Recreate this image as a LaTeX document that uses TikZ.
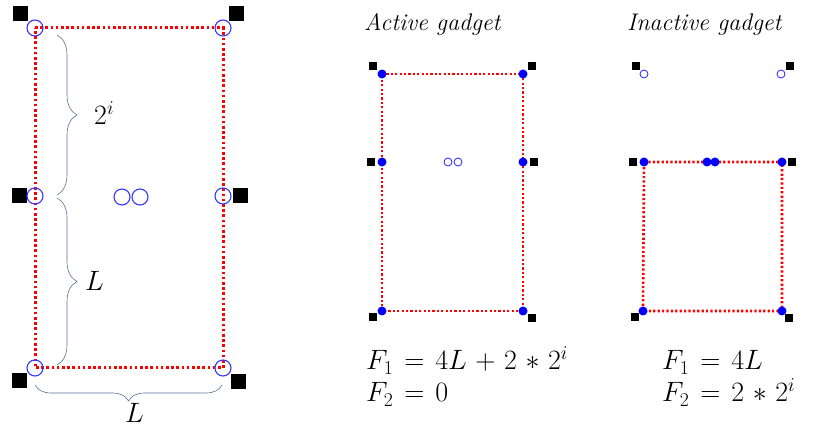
\documentclass[tikz,border=0pt]{standalone}
\usepackage{fix-cm}
\usepackage{amsmath}
\usepackage{xcolor}
\usepackage{tikz}
\usetikzlibrary{decorations.pathreplacing}
\thickmuskip=7mu plus 3mu\relax
\medmuskip=5.5mu plus 2mu minus 2mu\relax
\definecolor{bracecol}{RGB}{85,115,155}
\definecolor{ringcol}{RGB}{55,55,255}
\tikzset{
    blk/.style={rectangle, fill=black, minimum size=15pt, inner sep=0pt},
    blksmall/.style={blk, minimum size=8.5pt},
    ring/.style={circle, draw=ringcol, line width=1.1pt, minimum size=16pt, inner sep=0pt},
    ringsmall/.style={ring, minimum size=8pt, line width=0.9pt},
    bluedot/.style={circle, fill=blue, minimum size=9pt, inner sep=0pt},
    redwire/.style={red, line width=3pt, dash pattern=on 2.6pt off 2.6pt},
    redwiresmall/.style={red, line width=2.6pt, dash pattern=on 2.2pt off 2.2pt},
    bracket/.style={draw=bracecol, line width=0.6pt, decorate, decoration={brace, amplitude=#1}},
    lbl/.style={font=\fontsize{28}{32}\selectfont, inner sep=0pt},
    gtitle/.style={font=\fontsize{24}{28}\selectfont\itshape, inner sep=0pt}
}
\begin{document}
\begin{tikzpicture}[x=1pt, y=-1pt]
    \useasboundingbox (0,0) rectangle (815,430);

    % big gadget
    \node (bTL) [blk] at (20,14) {};
    \node (bTR) [blk] at (236,14) {};
    \node (bML) [blk] at (19,196) {};
    \node (bMR) [blk] at (240,196) {};
    \node (bBL) [blk] at (19,381) {};
    \node (bBR) [blk] at (238,382) {};
    \coordinate (pTL) at (35,28);
    \coordinate (pTR) at (223,28);
    \coordinate (pML) at (35,196);
    \coordinate (pMR) at (223,196);
    \coordinate (pBL) at (35,368);
    \coordinate (pBR) at (223,368);
    \draw [redwire] (pTL) -- (pTR) -- (pBR) -- (pBL) -- cycle;
    \node (cTL) [ring] at (pTL) {};
    \node (cTR) [ring] at (pTR) {};
    \node (cML) [ring] at (pML) {};
    \node (cMR) [ring] at (pMR) {};
    \node (cBL) [ring] at (pBL) {};
    \node (cBR) [ring] at (pBR) {};
    \node (cC1) [ring] at (122,197) {};
    \node (cC2) [ring] at (140,197) {};

    \coordinate (br1) at (57,35);
    \coordinate (br2) at (57,195);
    \coordinate (br3) at (57,198);
    \coordinate (br4) at (57,365);
    \coordinate (br5) at (222,385);
    \coordinate (br6) at (35,385);
    \draw [bracket=20pt] (br1) -- (br2);
    \draw [bracket=20pt] (br3) -- (br4);
    \draw [bracket=16pt] (br5) -- (br6);
    \node (lexp) [lbl, anchor=base west] at (94,125) {$2^{i}$};
    \node (lside) [lbl, anchor=base west] at (85,291) {$L$};
    \node (lbase) [lbl, anchor=base west] at (125,423) {$L$};

    % active gadget
    \node (atitle) [gtitle, anchor=base west] at (364,31) {Active gadget};
    \node (aTLs) [blksmall] at (373,66) {};
    \node (aTRs) [blksmall] at (532,66) {};
    \node (aMLs) [blksmall] at (371,162) {};
    \node (aMRs) [blksmall] at (534,162) {};
    \node (aBLs) [blksmall] at (373,317) {};
    \node (aBRs) [blksmall] at (532,318) {};
    \coordinate (aTL) at (382,74);
    \coordinate (aTR) at (523,74);
    \coordinate (aBL) at (382,311);
    \coordinate (aBR) at (523,311);
    \draw [redwiresmall] (aTL) -- (aTR) -- (aBR) -- (aBL) -- cycle;
    \node (aTLd) [bluedot] at (aTL) {};
    \node (aTRd) [bluedot] at (aTR) {};
    \node (aMLd) [bluedot] at (382,162) {};
    \node (aMRd) [bluedot] at (523,162) {};
    \node (aBLd) [bluedot] at (aBL) {};
    \node (aBRd) [bluedot] at (aBR) {};
    \node (aC1) [ringsmall] at (448,162) {};
    \node (aC2) [ringsmall] at (458,162) {};
    \node (af1) [lbl, anchor=base west] at (366,370) {$F_1 = 4L + 2 * 2^{i}$};
    \node (af2) [lbl, anchor=base west] at (366,402) {$F_2 = 0$};

    % inactive gadget
    \node (ititle) [gtitle, anchor=base west] at (627,31) {Inactive gadget};
    \node (iTLs) [blksmall] at (636,66) {};
    \node (iTRs) [blksmall] at (790,66) {};
    \node (iMLs) [blksmall] at (633,162) {};
    \node (iMRs) [blksmall] at (792,162) {};
    \node (iBLs) [blksmall] at (635,317) {};
    \node (iBRs) [blksmall] at (789,318) {};
    \node (iTLc) [ringsmall] at (644,74) {};
    \node (iTRc) [ringsmall] at (781,74) {};
    \coordinate (iML) at (644,162);
    \coordinate (iMR) at (782,162);
    \coordinate (iBL) at (643,311);
    \coordinate (iBR) at (782,311);
    \draw [redwiresmall] (iML) -- (iMR) -- (iBR) -- (iBL) -- cycle;
    \node (iMLd) [bluedot] at (iML) {};
    \node (iMRd) [bluedot] at (iMR) {};
    \node (iC1) [bluedot] at (707,162) {};
    \node (iC2) [bluedot] at (715,162) {};
    \node (iBLd) [bluedot] at (iBL) {};
    \node (iBRd) [bluedot] at (iBR) {};
    \node (if1) [lbl, anchor=base west] at (662,370) {$F_1 = 4L$};
    \node (if2) [lbl, anchor=base west] at (662,402) {$F_2 = 2 * 2^{i}$};
\end{tikzpicture}
\end{document}
